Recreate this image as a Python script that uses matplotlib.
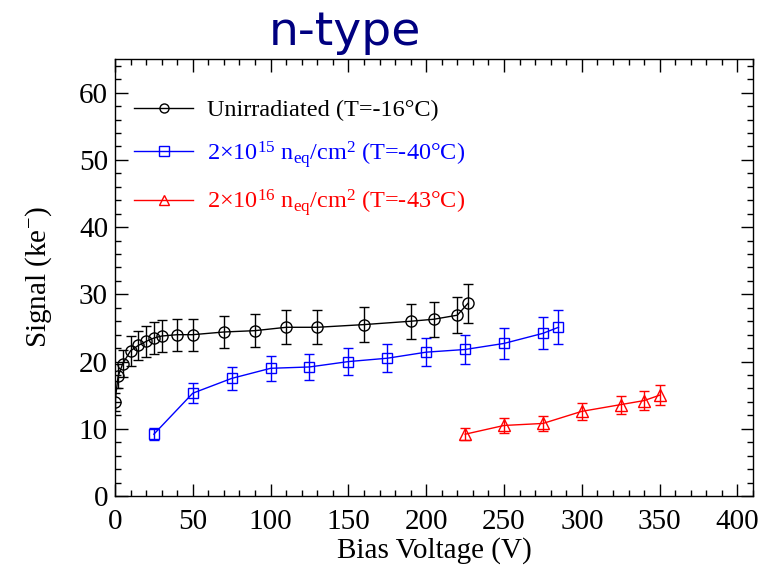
import matplotlib.pyplot as plt
from matplotlib.lines import Line2D
from matplotlib.ticker import MultipleLocator

plt.rcParams['font.family'] = ['Liberation Serif', 'DejaVu Serif']
plt.rcParams['mathtext.default'] = 'regular'

# Unirradiated sensor
v_unirr = [0, 2, 5, 10, 15, 20, 25, 30, 40, 50, 70, 90, 110, 130, 160, 190, 205, 220, 227]
s_unirr = [14.0, 17.8, 19.7, 21.6, 22.4, 23.0, 23.5, 23.8, 24.0, 24.0, 24.4, 24.6, 25.1, 25.1, 25.5, 26.0, 26.3, 26.9, 28.7]
e_unirr = [1.4, 1.8, 2.0, 2.2, 2.2, 2.3, 2.4, 2.4, 2.4, 2.4, 2.4, 2.5, 2.5, 2.5, 2.6, 2.6, 2.6, 2.7, 2.9]

# 2e15 neq/cm2
v_1e15 = [25, 50, 75, 100, 125, 150, 175, 200, 225, 250, 275, 285]
s_1e15 = [9.2, 15.3, 17.5, 19.0, 19.2, 20.0, 20.5, 21.4, 21.8, 22.7, 24.2, 25.1]
e_1e15 = [0.9, 1.5, 1.75, 1.9, 1.9, 2.0, 2.05, 2.1, 2.2, 2.3, 2.4, 2.5]

# 2e16 neq/cm2
v_1e16 = [225, 250, 275, 300, 325, 340, 350]
s_1e16 = [9.2, 10.5, 10.8, 12.6, 13.6, 14.2, 15.0]
e_1e16 = [0.9, 1.05, 1.1, 1.25, 1.35, 1.4, 1.5]

labels = ['Unirradiated (T=-16\u00b0C)',
          '2\u00d710$^{15}$ n$_{eq}$/cm$^{2}$ (T=-40\u00b0C)',
          '2\u00d710$^{16}$ n$_{eq}$/cm$^{2}$ (T=-43\u00b0C)']
colors = ['black', '#0000ff', '#ff0000']
markers = ['o', 's', '^']

fig = plt.figure(figsize=(7.68, 5.65), dpi=100)
ax = fig.add_axes([0.1497, 0.122, 0.8308, 0.7736])

series = [(v_unirr, s_unirr, e_unirr, 8), (v_1e15, s_1e15, e_1e15, 7), (v_1e16, s_1e16, e_1e16, 8)]
for (v, s, e, ms), c, m in zip(series, colors, markers):
    ax.errorbar(v, s, yerr=e, color=c, marker=m, ms=ms, mfc='none', mew=1.0,
                lw=1.0, elinewidth=1.0, capsize=3.5)

ax.set_xlim(0, 410)
ax.set_ylim(0, 65)
ax.xaxis.set_major_locator(MultipleLocator(50))
ax.xaxis.set_minor_locator(MultipleLocator(10))
ax.yaxis.set_major_locator(MultipleLocator(10))
ax.yaxis.set_minor_locator(MultipleLocator(2))
ax.tick_params(which='both', direction='in', top=True, right=True, labelsize=21, width=1.0)
ax.tick_params(which='major', length=9)
ax.tick_params(which='minor', length=4.5)
ax.tick_params(axis='x', pad=9)
ax.tick_params(axis='y', pad=5)
for sp in ax.spines.values():
    sp.set_linewidth(1.0)

ax.set_xlabel('Bias Voltage (V)', fontsize=21, labelpad=2)
ax.set_ylabel('Signal (ke$^{-}$)', fontsize=21, labelpad=18)

# legend: plain line + marker, no error bars
handles = [Line2D([], [], color=c, marker=m, ms=6.5, mfc='none', mew=1.0, lw=1.0)
           for c, m in zip(colors, markers)]
leg = ax.legend(handles, labels, loc='upper left', bbox_to_anchor=(-0.016, 0.975),
                frameon=False, fontsize=17.5, handlelength=2.45, handletextpad=0.55,
                labelspacing=0.72, borderaxespad=0.8)
for txt, c in zip(leg.get_texts(), colors):
    txt.set_color(c)

fig.text(0.449, 0.943, 'n-type', family='DejaVu Sans', fontsize=34,
         color='#000080', ha='center', va='center')

fig.savefig('out.png', dpi=100)
